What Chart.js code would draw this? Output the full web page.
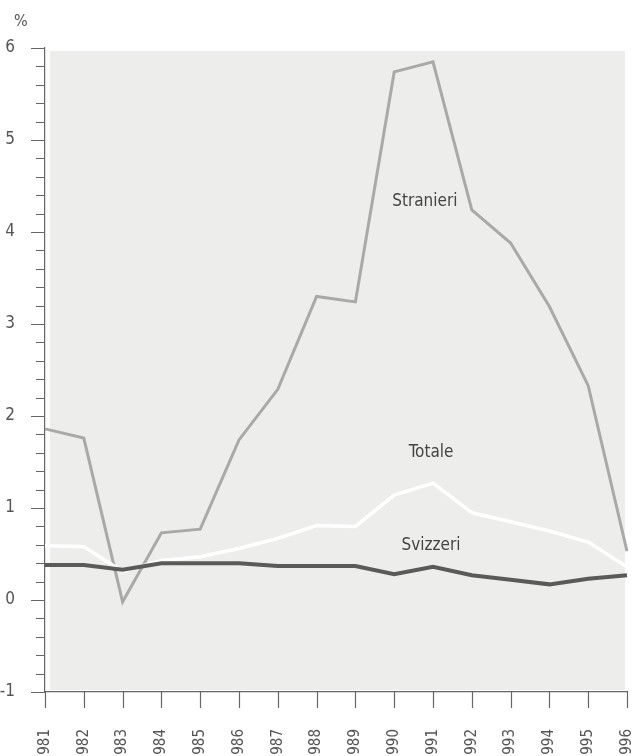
<!DOCTYPE html>
<html>
<head>
<meta charset="utf-8">
<script src="https://cdn.jsdelivr.net/npm/chart.js@4.4.1/dist/chart.umd.min.js"></script>
<style>
  html, body { margin: 0; padding: 0; background: #fff; }
  #wrap { position: relative; width: 640px; height: 756px; }
</style>
</head>
<body>
<div id="wrap"><canvas id="chart"></canvas></div>
<script>
const years = ['1981','1982','1983','1984','1985','1986','1987','1988','1989','1990','1991','1992','1993','1994','1995','1996'];
const stranieri = [1.86, 1.76, -0.02, 0.73, 0.77, 1.74, 2.29, 3.30, 3.24, 5.74, 5.85, 4.24, 3.88, 3.19, 2.33, 0.53];
const totale    = [0.59, 0.58, 0.31, 0.43, 0.47, 0.56, 0.67, 0.81, 0.80, 1.14, 1.27, 0.95, 0.85, 0.75, 0.63, 0.36];
const svizzeri  = [0.38, 0.38, 0.33, 0.40, 0.40, 0.40, 0.37, 0.37, 0.37, 0.28, 0.36, 0.27, 0.22, 0.17, 0.23, 0.27];

// series name labels: [text, category index, value]
const seriesLabels = [
    ['Stranieri', 9.79, 4.33],
    ['Totale', 9.95, 1.60],
    ['Svizzeri', 9.95, 0.59]
];

const FONT = "'DejaVu Sans Condensed', 'Liberation Sans Narrow', sans-serif";
const AXIS = '#666';

const isInt = v => Math.abs(v - Math.round(v)) < 1e-6;

const decor = {
    id: 'decor',
    beforeDraw(chart) {
        const { ctx, chartArea: a } = chart;
        ctx.save();
        ctx.fillStyle = '#ededeb';
        ctx.fillRect(a.left + 5, a.top + 3, a.right - a.left - 7, a.bottom - a.top - 5);
        ctx.restore();
    },
    afterDraw(chart) {
        const { ctx, chartArea: a } = chart;
        const x = chart.scales.x, y = chart.scales.y;
        ctx.save();
        ctx.strokeStyle = AXIS;
        ctx.lineWidth = 1.2;
        ctx.beginPath();
        y.ticks.forEach((t, i) => {
            const py = Math.round(y.getPixelForTick(i)) + 0.5;
            const len = isInt(t.value) ? 14 : 9;
            ctx.moveTo(a.left - len, py);
            ctx.lineTo(a.left, py);
        });
        x.ticks.forEach((t, i) => {
            const px = Math.round(x.getPixelForTick(i)) + 0.5;
            ctx.moveTo(px, a.bottom);
            ctx.lineTo(px, a.bottom + 16);
        });
        ctx.stroke();

        ctx.fillStyle = '#555';
        ctx.font = '16px ' + FONT;
        ctx.textAlign = 'left';
        ctx.textBaseline = 'middle';
        ctx.fillText('%', 14, 22);

        ctx.fillStyle = '#444';
        ctx.font = '17px ' + FONT;
        ctx.textAlign = 'center';
        seriesLabels.forEach(([txt, i, v]) => {
            ctx.fillText(txt, x.getPixelForValue(i), y.getPixelForValue(v));
        });
        ctx.restore();
    }
};

new Chart(document.getElementById('chart'), {
    type: 'line',
    data: {
        labels: years,
        datasets: [
            { label: 'Svizzeri', data: svizzeri, borderColor: '#5a5a58', borderWidth: 4 },
            { label: 'Totale', data: totale, borderColor: '#ffffff', borderWidth: 3.5 },
            { label: 'Stranieri', data: stranieri, borderColor: '#a9a9a7', borderWidth: 3 }
        ]
    },
    options: {
        responsive: true,
        maintainAspectRatio: false,
        animation: false,
        layout: { padding: { top: 48, right: 13, left: 0, bottom: 0 } },
        elements: {
            point: { radius: 0 },
            line: { tension: 0, borderJoinStyle: 'miter', borderCapStyle: 'butt' }
        },
        plugins: { legend: { display: false }, tooltip: { enabled: false } },
        scales: {
            x: {
                offset: false,
                grid: { display: false },
                border: { display: true, color: AXIS, width: 1.2 },
                ticks: {
                    minRotation: 90,
                    maxRotation: 90,
                    autoSkip: false,
                    padding: 29,
                    color: '#555',
                    font: { family: FONT, size: 15 }
                },
                afterFit(s) { s.height = 64; s.paddingLeft = 0; s.paddingRight = 0; }
            },
            y: {
                min: -1,
                max: 6,
                grid: { display: false },
                border: { display: true, color: AXIS, width: 1.2 },
                ticks: {
                    stepSize: 0.2,
                    autoSkip: false,
                    padding: 22,
                    color: '#555',
                    font: { family: FONT, size: 17 },
                    callback: v => isInt(v) ? String(Math.round(v)) : ''
                },
                afterFit(s) { s.width = 45; s.paddingTop = 0; s.paddingBottom = 0; }
            }
        }
    },
    plugins: [decor]
});
</script>
</body>
</html>
